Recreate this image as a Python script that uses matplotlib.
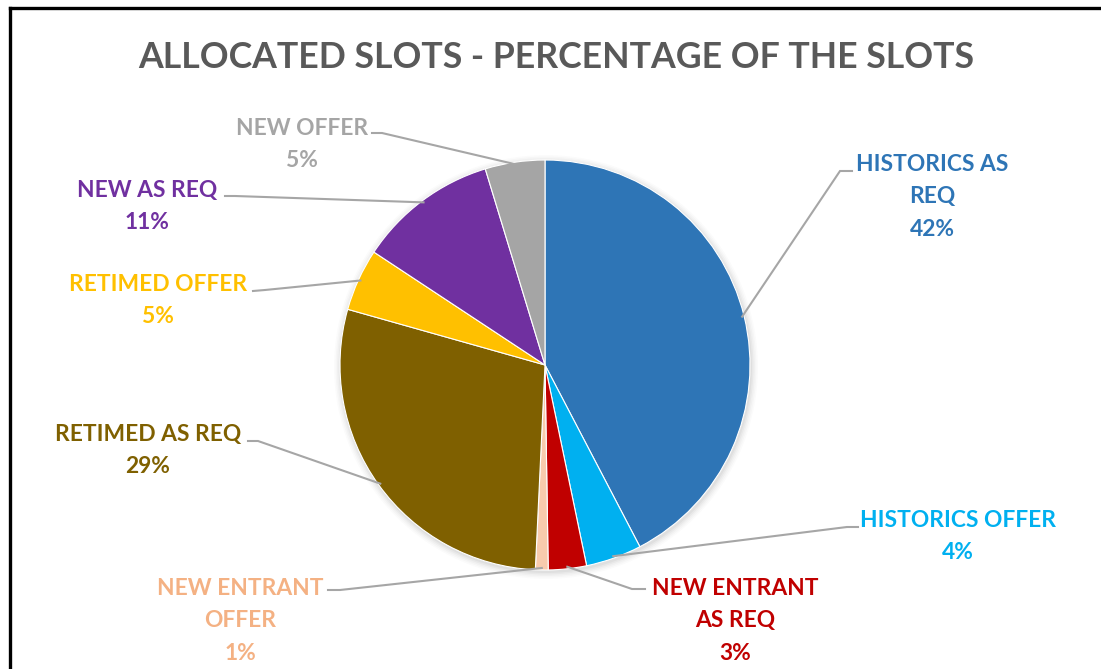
import numpy as np
import matplotlib
matplotlib.use("Agg")
import matplotlib.pyplot as plt
from matplotlib.lines import Line2D
from matplotlib.patches import Circle

# ---- data ----
categories = ["HISTORICS AS\nREQ", "HISTORICS OFFER", "NEW ENTRANT\nAS REQ",
              "NEW ENTRANT\nOFFER", "RETIMED AS REQ", "RETIMED OFFER",
              "NEW AS REQ", "NEW OFFER"]
values = [42.3, 4.4, 3.0, 1.0, 28.6, 4.9, 11.0, 4.7]
slice_colors = ["#2E75B6", "#00B0F0", "#C00000", "#F8CBAD",
                "#7F6000", "#FFC000", "#7030A0", "#A5A5A5"]
label_colors = ["#2E75B6", "#00B0F0", "#C00000", "#F4B183",
                "#7F6000", "#FFC000", "#7030A0", "#A5A5A5"]
title = "ALLOCATED SLOTS - PERCENTAGE OF THE SLOTS"

# ---- layout (pixel space, y measured from top) ----
W, H = 1101, 669
cx, cy, R = 545, 365, 205
label_pos = [(932, 163), (958, 519), (735, 587), (240, 587),
             (148, 433), (158, 283), (147, 189), (302, 127)]
elbows = [(840, 171), (847, 527), (632, 589), (340, 590),
          (258, 441), (265, 290), (235, 196), (382, 133)]
text_edges = [(852, 171), (858, 527), (645, 589), (328, 590),
              (248, 441), (253, 291), (225, 196), (372, 133)]

plt.rcParams['font.family'] = ['Lato', 'DejaVu Sans']

fig = plt.figure(figsize=(W / 100, H / 100), dpi=100)
ax = fig.add_axes([0, 0, 1, 1])

def Y(py):
    return H - py

# soft shadow
for i, a in enumerate([0.035, 0.03, 0.025, 0.02, 0.015]):
    ax.add_patch(Circle((cx + 1, Y(cy) - 2), R + 1 + i * 1.5, color='black',
                        alpha=a, lw=0, zorder=1))

wedges, _ = ax.pie(values, colors=slice_colors, startangle=90, counterclock=False,
                   center=(cx, Y(cy)), radius=R, frame=True,
                   wedgeprops=dict(edgecolor='white', linewidth=0.8))
for w in wedges:
    w.set_zorder(2)
ax.set_xlim(0, W)
ax.set_ylim(0, H)
ax.set_aspect('equal')
ax.axis('off')

total = sum(values)
for i, w in enumerate(wedges):
    mid = np.deg2rad((w.theta1 + w.theta2) / 2)
    ax_x = cx + (R - 2) * np.cos(mid)
    ax_y = Y(cy) + (R - 2) * np.sin(mid)
    ex, ey = elbows[i]
    tx, ty = text_edges[i]
    ax.add_line(Line2D([ax_x, ex, tx], [ax_y, Y(ey), Y(ty)], color='#A6A6A6',
                       lw=1.5, zorder=3, solid_joinstyle='miter'))
    lx, ly = label_pos[i]
    pct = f"{values[i] / total * 100:.0f}%"
    ax.text(lx, Y(ly) + 9, categories[i] + "\n" + pct, ha='center', va='top',
            fontsize=16.4, fontweight='bold', color=label_colors[i],
            linespacing=1.67, zorder=4)

ax.text(556, Y(57), title, ha='center', va='center', fontsize=25.7,
        fontweight='bold', color='#595959')

# frame lines (left and top)
fig.add_artist(Line2D([10 / W, 10 / W], [0, 1 - 8 / H], color='black', lw=2.4,
                      transform=fig.transFigure))
fig.add_artist(Line2D([10 / W, 1], [1 - 8 / H, 1 - 8 / H], color='black', lw=2.4,
                      transform=fig.transFigure))

fig.savefig("out.png", dpi=100, facecolor='white')
